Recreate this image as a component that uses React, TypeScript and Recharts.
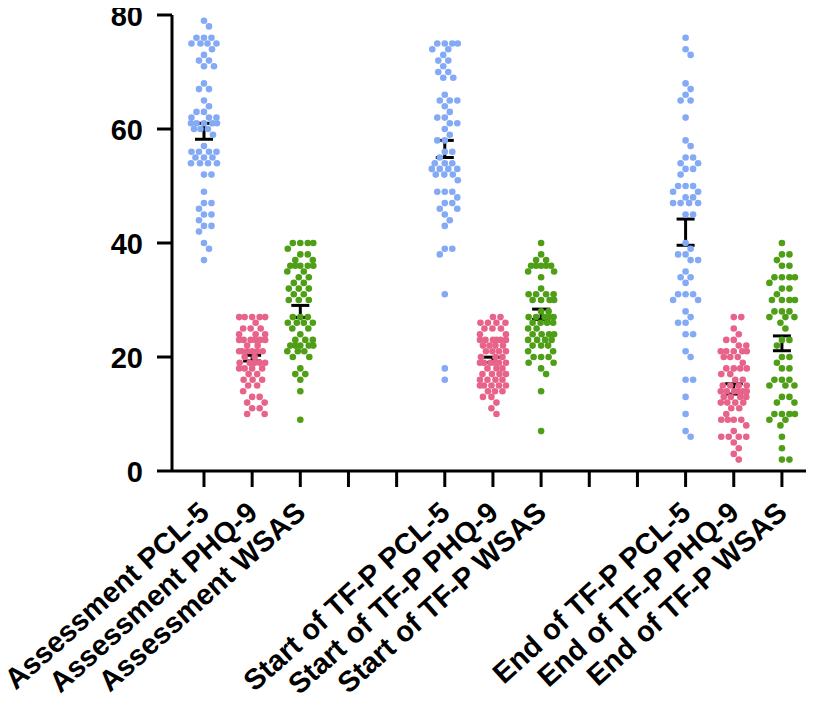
import React from 'react';
import { ScatterChart, Scatter, XAxis, YAxis, ErrorBar } from 'recharts';

// x slots: 13 positions, the empty ones are the gaps between time points
const slotLabels = [
  'Assessment PCL-5', 'Assessment PHQ-9', 'Assessment WSAS', '', '',
  'Start of TF-P PCL-5', 'Start of TF-P PHQ-9', 'Start of TF-P WSAS', '', '',
  'End of TF-P PCL-5', 'End of TF-P PHQ-9', 'End of TF-P WSAS',
];
const xTicks = [0, 1, 2, 3, 4, 5, 6, 7, 8, 9, 10, 11, 12];
const yTicks = [0, 20, 40, 60, 80];

// individual scores
const assessmentPCL = [79, 78, 76, 76, 76, 75, 75, 75, 75, 74, 73, 72, 72, 71, 71, 68, 67, 67, 65, 64, 63, 63, 62, 62, 62, 61, 61, 61, 61, 61, 60, 60, 60, 59, 57, 56, 56, 56, 56, 55, 55, 55, 54, 54, 54, 54, 52, 52, 49, 47, 47, 46, 45, 45, 44, 43, 43, 42, 40, 39, 37];
const assessmentPHQ = [27, 27, 27, 27, 27, 26, 25, 25, 25, 24, 24, 24, 23, 23, 23, 23, 23, 23, 22, 22, 21, 21, 21, 21, 21, 21, 20, 20, 19, 19, 19, 19, 19, 18, 18, 18, 18, 17, 17, 16, 16, 16, 15, 15, 14, 13, 13, 12, 12, 11, 11, 10, 10];
const assessmentWSAS = [40, 40, 40, 40, 39, 38, 38, 37, 37, 36, 36, 36, 36, 36, 35, 35, 34, 34, 33, 33, 32, 32, 32, 31, 31, 30, 30, 30, 27, 27, 27, 26, 26, 26, 26, 25, 25, 24, 23, 23, 23, 22, 22, 22, 22, 22, 21, 21, 21, 20, 20, 18, 17, 17, 16, 14, 9];
const startPCL = [75, 75, 75, 75, 74, 74, 73, 72, 72, 71, 70, 70, 69, 69, 66, 65, 65, 65, 64, 63, 62, 62, 61, 61, 60, 59, 58, 58, 56, 56, 55, 54, 54, 54, 53, 53, 53, 53, 52, 52, 52, 51, 49, 49, 49, 48, 47, 47, 46, 46, 45, 44, 43, 39, 39, 38, 31, 18, 16];
const startPHQ = [27, 27, 26, 26, 26, 26, 25, 25, 25, 24, 24, 23, 23, 23, 23, 23, 23, 22, 22, 22, 22, 21, 21, 21, 21, 20, 20, 20, 19, 19, 19, 19, 19, 19, 18, 18, 18, 17, 17, 17, 17, 16, 16, 16, 16, 15, 15, 15, 15, 15, 14, 14, 14, 13, 13, 12, 11, 10];
const startWSAS = [40, 38, 37, 37, 36, 36, 36, 36, 36, 35, 35, 34, 32, 31, 31, 31, 31, 30, 30, 30, 30, 28, 28, 27, 27, 27, 27, 27, 26, 26, 26, 26, 25, 25, 24, 24, 24, 24, 23, 23, 23, 23, 22, 22, 22, 21, 21, 20, 20, 20, 19, 19, 18, 17, 14, 7];
const endPCL = [76, 74, 73, 68, 67, 66, 65, 65, 62, 58, 57, 55, 55, 54, 54, 53, 53, 52, 50, 50, 50, 49, 49, 48, 48, 47, 47, 47, 47, 45, 45, 40, 39, 38, 38, 37, 37, 35, 34, 34, 33, 31, 31, 31, 30, 30, 28, 27, 26, 26, 24, 24, 21, 20, 16, 16, 13, 10, 7, 6];
const endPHQ = [27, 27, 25, 24, 23, 23, 22, 22, 21, 21, 21, 21, 21, 20, 20, 20, 19, 18, 18, 18, 18, 17, 17, 16, 16, 15, 15, 15, 15, 14, 14, 14, 14, 14, 14, 13, 13, 13, 13, 12, 12, 12, 12, 11, 11, 10, 9, 9, 9, 9, 8, 7, 6, 6, 6, 6, 5, 4, 3, 2];
const endWSAS = [40, 38, 38, 37, 36, 36, 34, 34, 34, 34, 33, 32, 32, 31, 30, 30, 30, 30, 28, 28, 28, 27, 27, 27, 26, 25, 23, 23, 22, 20, 20, 19, 18, 18, 16, 16, 16, 15, 15, 15, 13, 13, 12, 12, 10, 10, 10, 10, 9, 9, 8, 6, 4, 2, 2];

// mean and SEM as drawn by the black bars
const groupMeans = [59.6, 19.8, 28.0, 56.5, 19.5, 27.5, 41.9, 14.4, 22.4];
const groupSems = [1.4, 0.5, 1.05, 1.5, 0.47, 0.9, 2.3, 0.9, 1.3];

const BLUE = '#84AAF6';
const PINK = '#E8638A';
const GREEN = '#4E9E16';

const groups = [
  { slot: 0, values: assessmentPCL, color: BLUE },
  { slot: 1, values: assessmentPHQ, color: PINK },
  { slot: 2, values: assessmentWSAS, color: GREEN },
  { slot: 5, values: startPCL, color: BLUE },
  { slot: 6, values: startPHQ, color: PINK },
  { slot: 7, values: startWSAS, color: GREEN },
  { slot: 10, values: endPCL, color: BLUE },
  { slot: 11, values: endPHQ, color: PINK },
  { slot: 12, values: endWSAS, color: GREEN },
];

// the chart sits at the very top of the page (body margin cancelled)
const W = 800;
const H = 719;
const MARGIN = { top: 15, right: 2, left: 0, bottom: 0 };
const Y_AXIS_W = 164;
const X_AXIS_H = 248;
const X_DOMAIN: [number, number] = [-0.664, 12.5];
const plotW = W - MARGIN.left - MARGIN.right - Y_AXIS_W;
const plotH = H - MARGIN.top - MARGIN.bottom - X_AXIS_H;
const pxPerSlot = plotW / (X_DOMAIN[1] - X_DOMAIN[0]);
const pxPerUnit = plotH / 80;

const DOT_R = 3.3;
const DOT_GAP = 7.4;
const MAX_HALF = 13;
const FONT = '"Liberation Sans", Arial, Helvetica, sans-serif';
const FONT_SIZE = 29;
const LABEL_ANGLE = -42;

// simple greedy beeswarm: offsets in px, closest-to-centre free spot
function swarm(values: number[]): number[] {
  const order = values.map((_, i) => i).sort((a, b) => values[b] - values[a]);
  const cands = [0];
  for (let k = 0.5; k <= MAX_HALF; k += 0.5) cands.push(k, -k);
  const placed: { dx: number; dy: number }[] = [];
  const out = new Array(values.length).fill(0);
  for (const i of order) {
    const py = values[i] * pxPerUnit;
    let best = 0;
    let bestScore = -Infinity;
    for (const c of cands) {
      let minD = Infinity;
      for (const p of placed) {
        const d = Math.hypot(p.dx - c, p.dy - py);
        if (d < minD) minD = d;
      }
      if (minD >= DOT_GAP) { best = c; break; }
      if (minD > bestScore) { bestScore = minD; best = c; }
    }
    placed.push({ dx: best, dy: py });
    out[i] = best;
  }
  return out;
}

const seriesData = groups.map(g => {
  const offs = swarm(g.values);
  return g.values.map((v, i) => ({ x: g.slot + offs[i] / pxPerSlot, y: v }));
});

const meanData = groups.map((g, i) => ({ x: g.slot, y: groupMeans[i], err: groupSems[i] }));

const XTick = (props: any) => {
  const { x, y, payload } = props;
  const label = slotLabels[payload.value];
  if (!label) return null;
  const ex = x + 7;
  const ey = y + 26;
  return (
    <text
      x={ex}
      y={ey}
      transform={`rotate(${LABEL_ANGLE}, ${ex}, ${ey})`}
      textAnchor="end"
      fontFamily={FONT}
      fontWeight="bold"
      fontSize={FONT_SIZE}
      fill="#000"
    >
      {label}
    </text>
  );
};

const YTick = (props: any) => {
  const { x, y, payload } = props;
  return (
    <text
      x={x}
      y={y + 11}
      textAnchor="end"
      fontFamily={FONT}
      fontWeight="bold"
      fontSize={FONT_SIZE}
      fill="#000"
    >
      {payload.value}
    </text>
  );
};

const axisStroke = { stroke: '#000', strokeWidth: 3 };

export default function App() {
  return (
    <div style={{ marginTop: -8 }}>
      <ScatterChart width={W} height={H} margin={MARGIN}>
        <XAxis
          type="number"
          dataKey="x"
          domain={X_DOMAIN}
          ticks={xTicks}
          interval={0}
          allowDataOverflow
          height={X_AXIS_H}
          tickSize={16}
          axisLine={axisStroke}
          tickLine={axisStroke}
          tick={<XTick />}
        />
        <YAxis
          type="number"
          dataKey="y"
          domain={[0, 80]}
          ticks={yTicks}
          interval={0}
          width={Y_AXIS_W}
          tickSize={15}
          tickMargin={14}
          axisLine={axisStroke}
          tickLine={axisStroke}
          tick={<YTick />}
        />
        <Scatter data={meanData} isAnimationActive={false} shape={() => <g />}>
          <ErrorBar dataKey="err" direction="y" width={9} stroke="#000" strokeWidth={3} isAnimationActive={false} />
        </Scatter>
        {groups.map((g, gi) => (
          <Scatter
            key={gi}
            data={seriesData[gi]}
            isAnimationActive={false}
            shape={(p: any) => <circle cx={p.cx} cy={p.cy} r={DOT_R} fill={g.color} />}
          />
        ))}
      </ScatterChart>
    </div>
  );
}
